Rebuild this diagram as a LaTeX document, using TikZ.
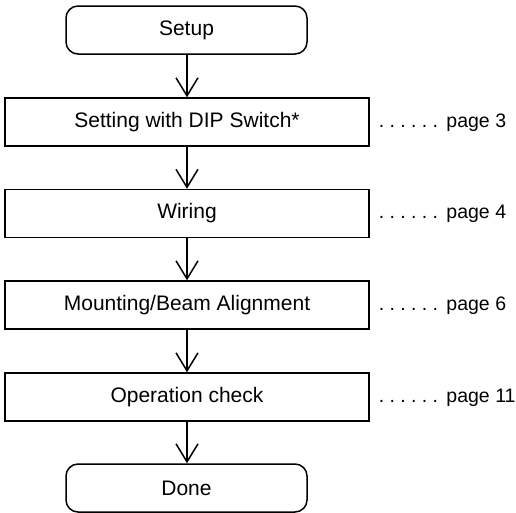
\documentclass[tikz,border=0pt]{standalone}
\usepackage{fontspec}
\setmainfont{Liberation Sans}
\usetikzlibrary{arrows.meta}
\newcommand{\dotrun}{.\hspace{5.3pt}.\hspace{5.3pt}.\hspace{5.3pt}.\hspace{5.3pt}.\hspace{5.3pt}.\hspace{8.5pt}}
\begin{document}
\begin{tikzpicture}[x=1pt,y=-1pt,
  stepbox/.style={draw, line width=1.5pt, minimum width=364pt, minimum height=48pt, inner sep=0pt, font=\fontsize{21}{24}\selectfont},
  termbox/.style={draw, line width=1.5pt, rounded corners=12pt, minimum width=241pt, minimum height=48pt, inner sep=0pt, font=\fontsize{21}{24}\selectfont},
  pagelbl/.style={anchor=base west, inner sep=0pt, font=\fontsize{19.5}{24}\selectfont},
  flow/.style={line width=1.5pt, -{Straight Barb[length=18pt,width=22pt,line width=1.5pt]}}
]
\useasboundingbox (0,0) rectangle (516,512);
\node[termbox] (setup) at (186.5,30) {Setup};
\node[stepbox] (dip) at (187,122) {Setting with DIP Switch*};
\node[stepbox] (wiring) at (187,213.5) {Wiring};
\node[stepbox] (mount) at (187,305) {Mounting/Beam Alignment};
\node[stepbox] (op) at (187,397) {Operation check};
\node[termbox] (done) at (186.5,488) {Done};
\node[pagelbl] (p3) at ([xshift=9pt]dip.base east) {\dotrun page 3};
\node[pagelbl] (p4) at ([xshift=9pt]wiring.base east) {\dotrun page 4};
\node[pagelbl] (p6) at ([xshift=9pt]mount.base east) {\dotrun page 6};
\node[pagelbl] (p11) at ([xshift=9pt]op.base east) {\dotrun page 11};
\draw[flow] (setup.south -| dip.north) -- (dip.north);
\draw[flow] (dip) -- (wiring);
\draw[flow] (wiring) -- (mount);
\draw[flow] (mount) -- (op);
\draw[flow] (op.south) -- (done.north -| op.south);
\end{tikzpicture}
\end{document}
